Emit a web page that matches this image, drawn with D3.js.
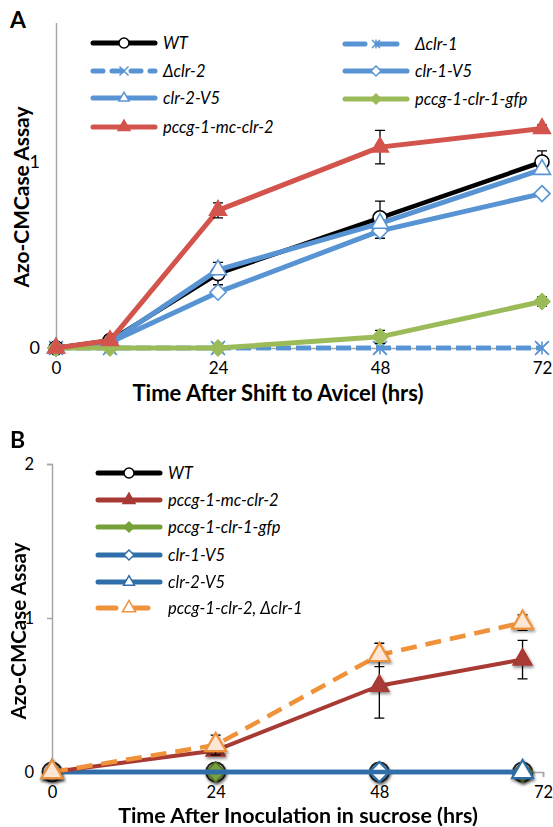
<!DOCTYPE html>
<html><head><meta charset="utf-8">
<script src="https://cdn.jsdelivr.net/npm/d3@7"></script>
<style>
body{margin:0;background:#fff}
svg{display:block}
text{font-family:Lato,"Noto Sans",sans-serif;fill:#000}
</style>
</head><body>
<svg id="c" width="553" height="827"></svg>
<script>
// ---------- DATA: panel A ----------
const hoursA = [0, 8, 24, 48, 72];
const xTicksA = [0, 24, 48, 72];
const yTicksA = [0, 1];
const wtA = [0, 0.04, 0.40, 0.70, 1.00];
const wtErrA = [0, 0.02, 0.06, 0.09, 0.06];
const dclr2A = [0, 0, 0, 0, 0];
const dclr1A = [0, 0, 0, 0, 0];
const clr2V5A = [0, 0.03, 0.42, 0.67, 0.96];
const clr1V5A = [0, 0.03, 0.30, 0.63, 0.83];
const clr1V5ErrA = [0, 0, 0, 0.04, 0];
const gfpA = [0, 0, 0, 0.06, 0.25];
const gfpErrA = [0, 0, 0, 0.035, 0.025];
const mcA = [0, 0.04, 0.74, 1.08, 1.18];
const mcErrA = [0, 0, 0.04, 0.09, 0.02];

// ---------- DATA: panel B ----------
const hoursB = [0, 24, 48, 69];
const xTicksB = [0, 24, 48, 72];
const yTicksB = [0, 1, 2];
const wtB = [0, 0, 0, 0];
const mcB = [0, 0.14, 0.56, 0.73];
const mcErrB = [0, 0, 0.21, 0.125];
const gfpB = [0, 0, 0, 0];
const clr1V5B = [0, 0, 0, 0];
const clr2V5B = [0, 0, 0, 0];
const dclr1B = [0, 0.175, 0.76, 0.97];
const dclr1ErrB = [0, 0.065, 0.076, 0.05];
// which points show a marker (overlapping markers in the original)
const gfpMarksB = [false, true, false, true];
const clr1MarksB = [false, false, true, false];
const clr2MarksB = [true, false, false, true];

// ---------- helpers ----------
const svg = d3.select("#c");
const defs = svg.append("defs");
defs.append("filter").attr("id","sh").attr("x","-50%").attr("y","-50%").attr("width","200%").attr("height","200%")
  .append("feDropShadow").attr("dx",1).attr("dy",2).attr("stdDeviation",1.4).attr("flood-color","#000").attr("flood-opacity",0.45);

const sym = {
  circle: r => d3.symbol(d3.symbolCircle, Math.PI*r*r)(),
  triangle: s => d3.symbol(d3.symbolTriangle, 0.433*s*s)(),
  diamond: r => `M0,${-r}L${r},0L0,${r}L${-r},0Z`,
  x: r => `M${-r},${-r}L${r},${r}M${-r},${r}L${r},${-r}`,
  star: r => `M${-r},${-r}L${r},${r}M${-r},${r}L${r},${-r}M0,${-r*1.1}L0,${r*1.1}`
};

function fitText(sel, width){
  const w = sel.node().getComputedTextLength();
  const fs = parseFloat(sel.attr("font-size"));
  sel.attr("font-size", fs*width/w);
}

function drawSeries(g, xs, ys, ys2, s){
  const pts = xs.map((x,i)=>[x, ys[i], ys2 ? ys2[i] : 0]);
  const line = d3.line().x(d=>s.x(d[0])).y(d=>s.y(d[1]));
  g.append("path").attr("d", line(pts)).attr("fill","none")
    .attr("stroke", s.color).attr("stroke-width", s.width)
    .attr("stroke-dasharray", s.dash || null)
    .attr("stroke-linejoin","round");
  if (ys2){
    pts.forEach(d=>{
      if (!d[2]) return;
      const cx = s.x(d[0]), y1 = s.y(d[1]+d[2]), y2 = s.y(d[1]-d[2]);
      g.append("path").attr("d",`M${cx},${y1}V${y2}M${cx-5},${y1}H${cx+5}M${cx-5},${y2}H${cx+5}`)
        .attr("stroke","#000").attr("stroke-width",1.3).attr("fill","none");
    });
  }
  const mg = g.append("g").attr("filter", s.shadow ? "url(#sh)" : null);
  pts.forEach((d,i)=>{
    if (s.marks && !s.marks[i]) return;
    mg.append("path").attr("d", sym[s.shape](s.r))
      .attr("transform",`translate(${s.x(d[0])},${s.y(d[1])})`)
      .attr("fill", s.fill).attr("stroke", s.mstroke || s.color).attr("stroke-width", s.mw || 1.5);
  });
}

function legendItem(g, x1, x2, y, label, s, fs){
  const cx = (x1+x2)/2;
  g.append("line").attr("x1",x1).attr("x2",x2).attr("y1",y).attr("y2",y)
    .attr("stroke", s.color).attr("stroke-width", s.lw || 5)
    .attr("stroke-dasharray", s.ldash || null).attr("stroke-linecap","round");
  g.append("path").attr("d", sym[s.shape](s.lr)).attr("transform",`translate(${cx},${y})`)
    .attr("fill", s.fill).attr("stroke", s.mstroke || s.color).attr("stroke-width", 1.5);
  g.append("text").attr("x", x2+8).attr("y", y+6).attr("font-size", fs)
    .attr("font-style","italic").text(label);
}

const axisGray = "#a6a6a6";

// ================= PANEL A =================
const xA = d3.scaleLinear().domain([0,72]).range([56,542]);
const yA = d3.scaleLinear().domain([0,1.75]).range([348,22.5]);
const gA = svg.append("g");

gA.append("g").attr("transform","translate(0,348)")
  .call(d3.axisBottom(xA).tickValues(xTicksA).tickSize(0).tickPadding(14).tickFormat(d3.format("d")))
  .call(a=>{a.select(".domain").attr("stroke",axisGray).attr("stroke-width",1.5);
            a.selectAll("text").attr("font-size",17).attr("font-family","Lato");});
gA.append("g").attr("transform","translate(56,0)")
  .call(d3.axisLeft(yA).tickValues(yTicksA).tickSize(0).tickPadding(16).tickFormat(d3.format("d")))
  .call(a=>{a.select(".domain").attr("stroke",axisGray).attr("stroke-width",1.5);
            a.selectAll("text").attr("font-size",18).attr("font-family","Lato");});

const blueA = "#5894d3", redA = "#d3544c", greenA = "#9bbb59";
const sA = {x:xA, y:yA};
drawSeries(gA, hoursA, dclr2A, null, {...sA, color:blueA, width:4.5, dash:"15,5", shape:"x", r:7, fill:"none", mw:1.6});
drawSeries(gA, hoursA, dclr1A, null, {...sA, color:blueA, width:4.5, dash:"15,5", shape:"star", r:6, fill:"none", mw:1.6});
drawSeries(gA, hoursA, wtA, wtErrA, {...sA, color:"#000", width:4.5, shape:"circle", r:7, fill:"#fff", mw:1.6});
drawSeries(gA, hoursA, clr1V5A, clr1V5ErrA, {...sA, color:blueA, width:5, shape:"diamond", r:8, fill:"#fff", mw:1.6});
drawSeries(gA, hoursA, clr2V5A, null, {...sA, color:blueA, width:5, shape:"triangle", r:17, fill:"#fff", mw:1.6});
drawSeries(gA, hoursA, gfpA, gfpErrA, {...sA, color:greenA, width:5, shape:"diamond", r:8, fill:greenA});
drawSeries(gA, hoursA, mcA, mcErrA, {...sA, color:redA, width:5, shape:"triangle", r:17, fill:redA});

// legend A
const lgA = svg.append("g");
const fsLeg = 16.5;
legendItem(lgA, 93, 155, 43, "WT", {color:"#000", shape:"circle", lr:5, fill:"#fff"}, fsLeg);
legendItem(lgA, 93, 155, 71, "Δclr-2", {color:blueA, ldash:"10,9", shape:"x", lr:4.5, fill:"none"}, fsLeg);
legendItem(lgA, 93, 155, 98, "clr-2-V5", {color:blueA, shape:"triangle", lr:10, fill:"#fff"}, fsLeg);
legendItem(lgA, 93, 155, 127, "pccg-1-mc-clr-2", {color:redA, shape:"triangle", lr:12, fill:redA}, fsLeg);
legendItem(lgA, 345, 407, 44, "Δclr-1", {color:blueA, ldash:"20,12", shape:"star", lr:4, fill:"none"}, fsLeg);
legendItem(lgA, 345, 407, 71, "clr-1-V5", {color:blueA, shape:"diamond", lr:5, fill:"#fff"}, fsLeg);
legendItem(lgA, 345, 407, 99, "pccg-1-clr-1-gfp", {color:greenA, shape:"diamond", lr:5, fill:greenA}, fsLeg);

// titles A
svg.append("text").attr("x",10).attr("y",28).attr("font-size",23).attr("font-weight","bold")
  .attr("font-family","Liberation Sans").text("A");
const xtA = svg.append("text").attr("x",278).attr("y",401).attr("text-anchor","middle")
  .attr("font-size",18).attr("font-weight","bold").text("Time After Shift to Avicel (hrs)");
fitText(xtA, 291);
const ytA = svg.append("text").attr("transform","translate(29,197) rotate(-90)").attr("text-anchor","middle")
  .attr("font-size",18).attr("font-weight","bold").text("Azo-CMCase Assay");
fitText(ytA, 181);

// ================= PANEL B =================
const xB = d3.scaleLinear().domain([0,72]).range([52,543]);
const yB = d3.scaleLinear().domain([0,2]).range([772,464]);
const gB = svg.append("g");

gB.append("g").attr("transform","translate(0,772)")
  .call(d3.axisBottom(xB).tickValues(xTicksB).tickSize(5).tickPadding(9).tickFormat(d3.format("d")))
  .call(a=>{a.select(".domain").attr("stroke",axisGray).attr("stroke-width",1.5);
            a.selectAll("line").attr("stroke",axisGray).attr("stroke-width",1.5);
            a.selectAll("text").attr("font-size",16.5).attr("font-family","Lato");});
gB.append("g").attr("transform","translate(52,0)")
  .call(d3.axisLeft(yB).tickValues(yTicksB).tickSize(5).tickPadding(13).tickFormat(d3.format("d")))
  .call(a=>{a.select(".domain").attr("stroke",axisGray).attr("stroke-width",1.5);
            a.selectAll("line").attr("stroke",axisGray).attr("stroke-width",1.5);
            a.selectAll("text").attr("font-size",16.5).attr("font-family","Lato");});

const redB = "#a83a34", greenB = "#76a03a", blueB = "#2f6ea8", orangeB = "#f0923a";
const sB = {x:xB, y:yB, shadow:true};
drawSeries(gB, hoursB, wtB, null, {...sB, color:"#000", width:3, shape:"circle", r:9.5, fill:"#d9d9d9", mstroke:"#222", mw:2});
drawSeries(gB, hoursB, gfpB, null, {...sB, color:greenB, width:4, shape:"diamond", r:10, fill:greenB, mstroke:"#4f6e22", marks:gfpMarksB});
drawSeries(gB, hoursB, clr1V5B, null, {...sB, color:blueB, width:4.5, shape:"diamond", r:10, fill:"#fff", mw:2.2, marks:clr1MarksB});
drawSeries(gB, hoursB, clr2V5B, null, {...sB, color:blueB, width:4.5, shape:"triangle", r:21, fill:"#fff", mw:2.2, marks:clr2MarksB});
drawSeries(gB, hoursB, mcB, mcErrB, {...sB, color:redB, width:4, shape:"triangle", r:19, fill:redB});
drawSeries(gB, hoursB, dclr1B, dclr1ErrB, {...sB, color:orangeB, width:4.5, dash:"16,9", shape:"triangle", r:21, fill:"#fde6d6", mw:2.2});

// legend B
const lgB = svg.append("g");
legendItem(lgB, 98, 160, 473, "WT", {color:"#000", shape:"circle", lr:5, fill:"#fff"}, fsLeg);
legendItem(lgB, 98, 160, 500, "pccg-1-mc-clr-2", {color:redB, shape:"triangle", lr:12, fill:redB}, fsLeg);
legendItem(lgB, 98, 160, 527, "pccg-1-clr-1-gfp", {color:greenB, shape:"diamond", lr:5, fill:greenB}, fsLeg);
legendItem(lgB, 98, 160, 555, "clr-1-V5", {color:blueB, shape:"diamond", lr:5, fill:"#fff"}, fsLeg);
legendItem(lgB, 98, 160, 582, "clr-2-V5", {color:blueB, shape:"triangle", lr:11, fill:"#fff"}, fsLeg);
legendItem(lgB, 98, 160, 608, "pccg-1-clr-2, Δclr-1", {color:orangeB, ldash:"18,14", shape:"triangle", lr:13, fill:"#fff"}, fsLeg);

svg.append("text").attr("x",10).attr("y",448).attr("font-size",23).attr("font-weight","bold")
  .attr("font-family","Liberation Sans").text("B");
const xtB = svg.append("text").attr("x",298).attr("y",822.5).attr("text-anchor","middle")
  .attr("font-size",18).attr("font-weight","bold").text("Time After Inoculation in sucrose (hrs)");
fitText(xtB, 360);
const ytB = svg.append("text").attr("transform","translate(26,631) rotate(-90)").attr("text-anchor","middle")
  .attr("font-size",18).attr("font-weight","bold").text("Azo-CMCase Assay");
fitText(ytB, 177);
</script>
</body></html>
